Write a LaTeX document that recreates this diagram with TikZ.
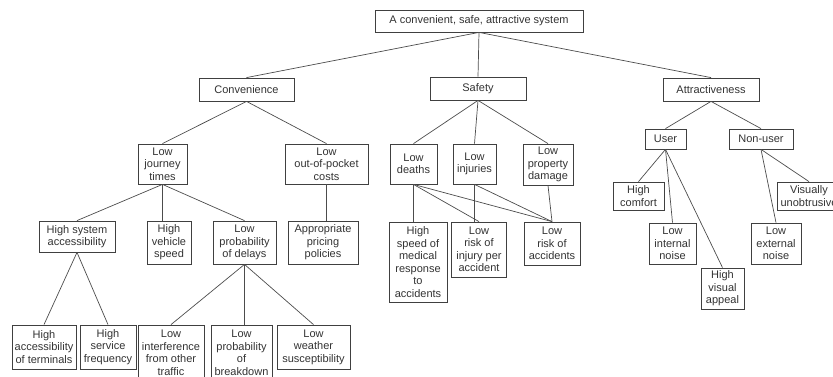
\documentclass[tikz,border=0pt]{standalone}
\usepackage{fontspec}
\setmainfont{Liberation Sans}
\begin{document}
\begin{tikzpicture}[
    x=1pt, y=-1pt,
    goalbox/.style={
        draw=black!75, fill=white, line width=0.8pt,
        inner xsep=2.5pt, inner ysep=2pt,
        font=\fontsize{11}{12.5}\selectfont, text=black!80, align=center
    },
    size/.style n args={2}{minimum width=#1pt, minimum height=#2pt},
    linkstyle/.style={
        draw=black!70, line width=0.7pt
    }
]
\useasboundingbox (0,0) rectangle (833,377);

% Top level
\node[goalbox, size={208}{22}] (sys) at (479,21) {A convenient, safe, attractive system};

\node[goalbox, size={95}{23}] (conv)  at (246.5,89.5) {Convenience};
\node[goalbox, size={96}{23}] (safe)  at (478,88.5)   {Safety};
\node[goalbox, size={96}{23}] (attr)  at (711,89.5)   {Attractiveness};

% Convenience branch
\node[goalbox, size={49}{40}] (jtime) at (162.5,164) {Low\\journey\\times};
\node[goalbox, size={83}{40}] (cost)  at (326.5,164) {Low\\out-of-pocket\\costs};

\node[goalbox, size={76}{31}] (access) at (77,236.5)  {High system\\accessibility};
\node[goalbox, size={44}{43}] (speed)  at (169,242.5) {High\\vehicle\\speed};
\node[goalbox, size={63}{43}] (delay)  at (244.5,242.5) {Low\\probability\\of delays};
\node[goalbox, size={70}{43}] (price)  at (323,242.5) {Appropriate\\pricing\\policies};

\node[goalbox, size={64}{44}] (term)    at (44,347)    {High\\accessibility\\of terminals};
\node[goalbox, size={56}{44}] (freq)    at (108,347)   {High\\service\\frequency};
\node[goalbox, size={66}{56}] (interf)  at (171,353)   {Low\\interference\\from other\\traffic};
\node[goalbox, size={61}{56}] (brkdown) at (241.5,353) {Low\\probability\\of\\breakdown};
\node[goalbox, size={73}{44}] (weather) at (313.5,347) {Low\\weather\\susceptibility};

% Safety branch
\node[goalbox, size={47}{40}] (deaths) at (413.5,164) {Low\\deaths};
\node[goalbox, size={43}{40}] (injury) at (474.5,164) {Low\\injuries};
\node[goalbox, size={50}{41}] (damage) at (548,164.5) {Low\\property\\damage};

\node[goalbox, size={58}{80}] (medic)  at (418,262)   {High\\speed of\\medical\\response\\to\\accidents};
\node[goalbox, size={55}{55}] (risk)   at (479,249.5) {Low\\risk of\\injury per\\accident};
\node[goalbox, size={56}{43}] (accid)  at (552,243.5) {Low\\risk of\\accidents};

% Attractiveness branch
\node[goalbox, size={41}{20}] (user)    at (665.5,139) {User};
\node[goalbox, size={64}{20}] (nonuser) at (761,139)   {Non-user};

\node[goalbox, size={51}{28}] (comfort) at (638.5,196)   {High\\comfort};
\node[goalbox, size={47}{41}] (inoise)  at (672.5,243.5) {Low\\internal\\noise};
\node[goalbox, size={43}{41}] (appeal)  at (722.5,288.5) {High\\visual\\appeal};
\node[goalbox, size={50}{41}] (enoise)  at (776,243.5)   {Low\\external\\noise};
\node[goalbox, size={64}{28}] (unobtr)  at (809,196)     {Visually\\unobtrusive};

% Connectors
\draw[linkstyle] (sys.south) -- (conv.north);
\draw[linkstyle] (sys.south) -- (safe.north);
\draw[linkstyle] (sys.south) -- (attr.north);

\draw[linkstyle] (conv.south) -- (jtime.north);
\draw[linkstyle] (conv.south) -- (cost.north);
\draw[linkstyle] (jtime.south) -- (access.north);
\draw[linkstyle] (jtime.south) -- (speed.north -| jtime.south);
\draw[linkstyle] (jtime.south) -- (delay.north);
\draw[linkstyle] (cost.south) -- (price.north -| cost.south);
\draw[linkstyle] (access.south) -- (term.north);
\draw[linkstyle] (access.south) -- (freq.north);
\draw[linkstyle] (delay.south) -- (interf.north);
\draw[linkstyle] (delay.south) -- (brkdown.north -| delay.south);
\draw[linkstyle] (delay.south) -- (weather.north);

\draw[linkstyle] (safe.south) -- (deaths.north);
\draw[linkstyle] (safe.south) -- (injury.north);
\draw[linkstyle] (safe.south) -- (damage.north);
\draw[linkstyle] (deaths.south) -- (medic.north -| deaths.south);
\draw[linkstyle] (deaths.south) -- (risk.north);
\draw[linkstyle] (deaths.south) -- (accid.north);
\draw[linkstyle] (injury.south) -- (risk.north -| injury.south);
\draw[linkstyle] (injury.south) -- (accid.north);
\draw[linkstyle] (damage.south) -- (accid.north);

\draw[linkstyle] (attr.south) -- (user.north);
\draw[linkstyle] (attr.south) -- (nonuser.north);
\draw[linkstyle] (user.south) -- (comfort.north);
\draw[linkstyle] (user.south) -- (inoise.north);
\draw[linkstyle] (user.south) -- (appeal.north);
\draw[linkstyle] (nonuser.south) -- (enoise.north);
\draw[linkstyle] (nonuser.south) -- (unobtr.north);

\end{tikzpicture}
\end{document}
